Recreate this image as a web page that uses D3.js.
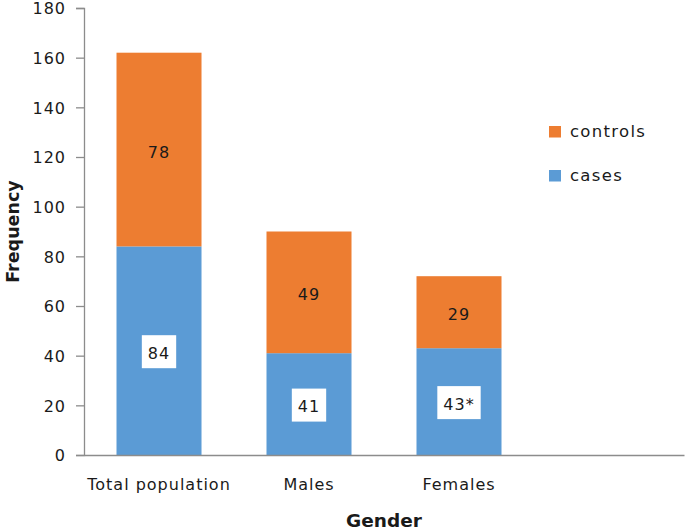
<!DOCTYPE html>
<html><head><meta charset="utf-8">
<script src="https://cdn.jsdelivr.net/npm/d3@7"></script>
<style>body{margin:0;background:#fff}svg{display:block}text{font-family:"DejaVu Sans",Verdana,sans-serif}</style>
</head><body><svg id="c" width="685" height="529"></svg>
<script>
const categories = ["Total population", "Males", "Females"];
const cases = [84, 41, 43];
const controls = [78, 49, 29];
const caseLabels = ["84", "41", "43*"];
const controlLabels = ["78", "49", "29"];
const seriesNames = ["controls", "cases"];
const yTicks = [0, 20, 40, 60, 80, 100, 120, 140, 160, 180];

const svg = d3.select("#c");
const mLeft = 84, mRight = 684, mTop = 8, mBottom = 455;
const colors = {cases: "#5B9BD5", controls: "#ED7D31"};
const axisColor = "#8c8c8c";
const txt = "#1a1a1a";

const y = d3.scaleLinear().domain([0, 180]).range([mBottom, mTop]);
const slots = categories.concat([""]);
const x = d3.scaleBand().domain(slots).range([mLeft, mRight]).paddingInner(0.4333).paddingOuter(0.2167);

const data = categories.map((c, i) => ({cat: c, cases: cases[i], controls: controls[i], cl: caseLabels[i], ol: controlLabels[i]}));
const stack = d3.stack().keys(["cases", "controls"])(data);

// y axis
const yAxis = svg.append("g").attr("transform", `translate(${mLeft},0)`)
  .call(d3.axisLeft(y).tickValues(yTicks).tickSize(8).tickPadding(10));
yAxis.select(".domain").attr("stroke", axisColor).attr("stroke-width", 1.3);
yAxis.selectAll(".tick line").attr("stroke", axisColor).attr("stroke-width", 1.3);
yAxis.selectAll(".tick text").attr("font-size", 16).attr("letter-spacing", 1).attr("fill", txt)
  .attr("font-family", "DejaVu Sans").attr("dy", "0.36em");

// bars
stack.forEach(layer => {
  svg.append("g").selectAll("rect").data(layer).join("rect")
    .attr("x", d => x(d.data.cat))
    .attr("width", x.bandwidth())
    .attr("y", d => y(d[1]))
    .attr("height", d => y(d[0]) - y(d[1]))
    .attr("fill", colors[layer.key]);
});

// x axis
const xAxis = svg.append("g").attr("transform", `translate(0,${mBottom})`)
  .call(d3.axisBottom(x).tickSize(0).tickPadding(23.6));
xAxis.select(".domain").attr("stroke", axisColor).attr("stroke-width", 1.3);
xAxis.selectAll(".tick text").attr("font-size", 16).attr("letter-spacing", 1).attr("fill", txt)
  .attr("font-family", "DejaVu Sans");

// control labels
svg.append("g").selectAll("text").data(data).join("text")
  .attr("x", d => x(d.cat) + x.bandwidth() / 2)
  .attr("y", d => y(d.cases + d.controls / 2))
  .attr("dy", "0.5em").attr("text-anchor", "middle").attr("letter-spacing", 1)
  .attr("font-size", 16).attr("fill", txt).text(d => d.ol);

// case labels with white boxes
const cg = svg.append("g").selectAll("g").data(data).join("g")
  .attr("transform", d => `translate(${x(d.cat) + x.bandwidth() / 2},${y(d.cases / 2)})`);
cg.append("text").attr("dy", "0.5em").attr("text-anchor", "middle").attr("letter-spacing", 1)
  .attr("font-size", 16).attr("fill", txt).text(d => d.cl);
cg.each(function () {
  const g = d3.select(this);
  const bb = g.select("text").node().getBBox();
  g.insert("rect", "text").attr("x", bb.x - 6).attr("y", -15.5)
    .attr("width", bb.width + 12).attr("height", 33).attr("fill", "#fff");
});

// legend
const lg = svg.append("g");
seriesNames.forEach((s, i) => {
  const ly = 131.5 + i * 44;
  lg.append("rect").attr("x", 549).attr("y", ly - 5.5).attr("width", 12).attr("height", 11.5).attr("fill", colors[s]);
  lg.append("text").attr("x", 570).attr("y", ly + 5.5).attr("font-size", 16.5).attr("letter-spacing", 1.3)
    .attr("fill", txt).text(s);
});

// axis titles
svg.append("text").attr("x", (mLeft + mRight) / 2).attr("y", 526.5).attr("text-anchor", "middle")
  .attr("font-size", 18.5).attr("font-weight", "bold").attr("fill", txt).text("Gender");
svg.append("text").attr("transform", `translate(18.5,${231.5}) rotate(-90)`).attr("text-anchor", "middle")
  .attr("font-size", 17.5).attr("font-weight", "bold").attr("fill", txt).text("Frequency");
</script></body></html>
